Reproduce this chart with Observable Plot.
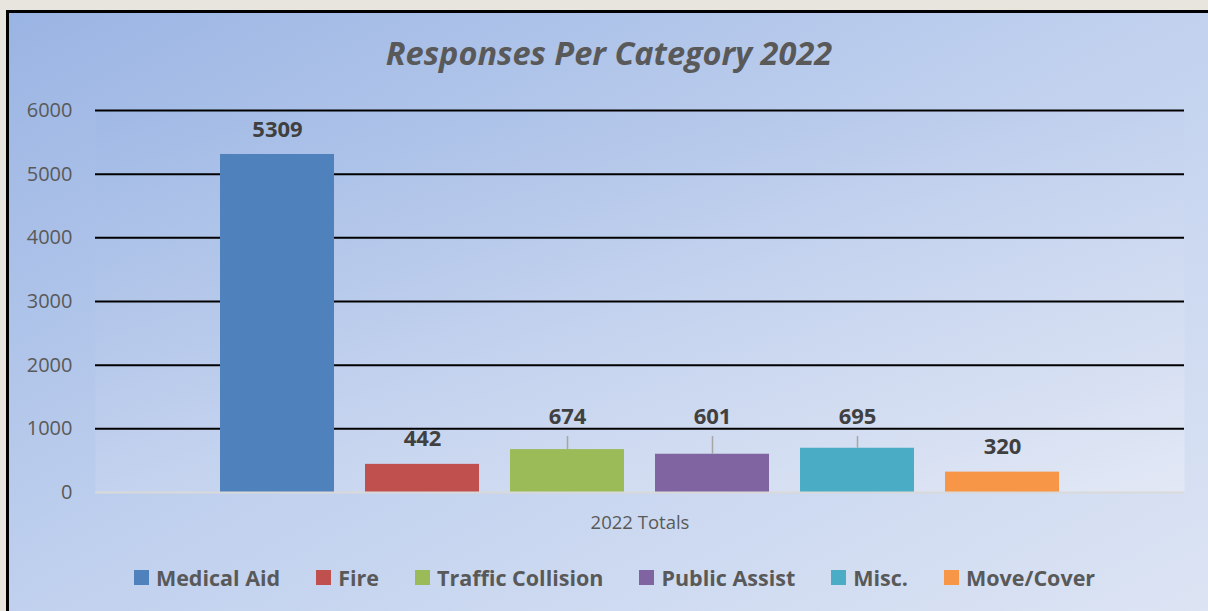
<!DOCTYPE html>
<html>
<head>
<meta charset="utf-8">
<script src="https://cdn.jsdelivr.net/npm/d3@7"></script>
<script src="https://cdn.jsdelivr.net/npm/@observablehq/plot@0.6"></script>
<style>
  html, body { margin: 0; padding: 0; }
  body { width: 1208px; height: 611px; overflow: hidden; position: relative;
         background: #e8e5de; font-family: "Open Sans", sans-serif; }
  #box { position: absolute; left: 6px; top: 10px; width: 1230px; height: 640px;
         border-left: 3px solid #000; border-top: 3px solid #000;
         background: linear-gradient(to bottom right, #9ab4e3 0%, #bfd0ee 45%, #dfe6f4 100%); }
  #title { position: absolute; left: 0; top: 30px; width: 1218px; text-align: center;
           font: italic 700 32.5px "Open Sans", sans-serif; color: #595959; }
  #plot { position: absolute; left: 0; top: 0; }
  #legend { position: absolute; left: 0; top: 563px; width: 1229px; display: flex;
            justify-content: center; align-items: center; gap: 36px;
            font: 700 21.5px "Open Sans", sans-serif; color: #595959; }
  #legend .item { display: flex; align-items: center; gap: 7px; }
  #legend .sw { width: 15px; height: 15px; display: inline-block; }
</style>
</head>
<body>
<div id="box"></div>
<div id="title">Responses Per Category 2022</div>
<div id="plot"></div>
<div id="legend"></div>
<script>
const categories = ["Medical Aid", "Fire", "Traffic Collision", "Public Assist", "Misc.", "Move/Cover"];
const values = [5309, 442, 674, 601, 695, 320];
const colors = ["#4f81bd", "#c0504d", "#9bbb59", "#8064a2", "#4bacc6", "#f79646"];
const yTicks = [0, 1000, 2000, 3000, 4000, 5000, 6000];
const groupLabel = "2022 Totals";

const data = categories.map((c, i) => ({category: c, value: values[i]}));
// labels that would collide with the 1000 gridline are lifted above it with a leader line
const liftTo = 1180, leaderTop = 880;
const isLifted = d => d.value < 1000 && d.value + 500 > 1000;
const liftedLabels = data.filter(isLifted);
const normalLabels = data.filter(d => !isLifted(d));

const chart = Plot.plot({
  width: 1208,
  height: 540,
  marginLeft: 95,
  marginRight: 24,
  marginTop: 110,
  marginBottom: 48,
  style: {background: "transparent", fontFamily: "Open Sans, sans-serif"},
  x: {domain: categories, paddingInner: 0.215, paddingOuter: 0.86, axis: null},
  y: {domain: [0, 6000], ticks: yTicks, axis: null},
  color: {domain: categories, range: colors},
  marks: [
    Plot.frame({fill: "url(#plotGrad)", stroke: "none"}),
    Plot.ruleY(yTicks.filter(t => t > 0), {stroke: "#000", strokeWidth: 2}),
    Plot.barY(data, {x: "category", y: "value", fill: "category"}),
    Plot.ruleY([0], {stroke: "#d9d9d9", strokeWidth: 2}),
    Plot.ruleX(liftedLabels, {x: "category", y1: "value", y2: leaderTop, stroke: "#a6a6a6", strokeWidth: 1.5}),
    Plot.text(liftedLabels, {x: "category", y: () => liftTo, text: d => String(d.value),
      fontSize: 22, fontWeight: 700, fill: "#404040", lineAnchor: "middle"}),
    Plot.text(normalLabels, {x: "category", y: "value", text: d => String(d.value),
      dy: -25, fontSize: 22, fontWeight: 700, fill: "#404040", lineAnchor: "middle"}),
    Plot.text(yTicks, {y: d => d, text: d => String(d), frameAnchor: "left",
      dx: -23, textAnchor: "end", fontSize: 20, fill: "#595959", lineAnchor: "middle"}),
    Plot.text([groupLabel], {frameAnchor: "bottom", dy: 31, fontSize: 18.5, fill: "#595959", lineAnchor: "middle"})
  ]
});

const ns = "http://www.w3.org/2000/svg";
const defs = document.createElementNS(ns, "defs");
defs.innerHTML = '<linearGradient id="plotGrad" x1="0" y1="0" x2="1" y2="1">' +
  '<stop offset="0" stop-color="#a0b9e5"/><stop offset="0.5" stop-color="#c3d2ee"/>' +
  '<stop offset="1" stop-color="#e2e8f5"/></linearGradient>';
chart.insertBefore(defs, chart.firstChild);
document.getElementById("plot").appendChild(chart);

const legend = document.getElementById("legend");
categories.forEach((c, i) => {
  const item = document.createElement("span");
  item.className = "item";
  const sw = document.createElement("span");
  sw.className = "sw";
  sw.style.background = colors[i];
  const t = document.createElement("span");
  t.textContent = c;
  item.appendChild(sw);
  item.appendChild(t);
  legend.appendChild(item);
});
</script>
</body>
</html>
